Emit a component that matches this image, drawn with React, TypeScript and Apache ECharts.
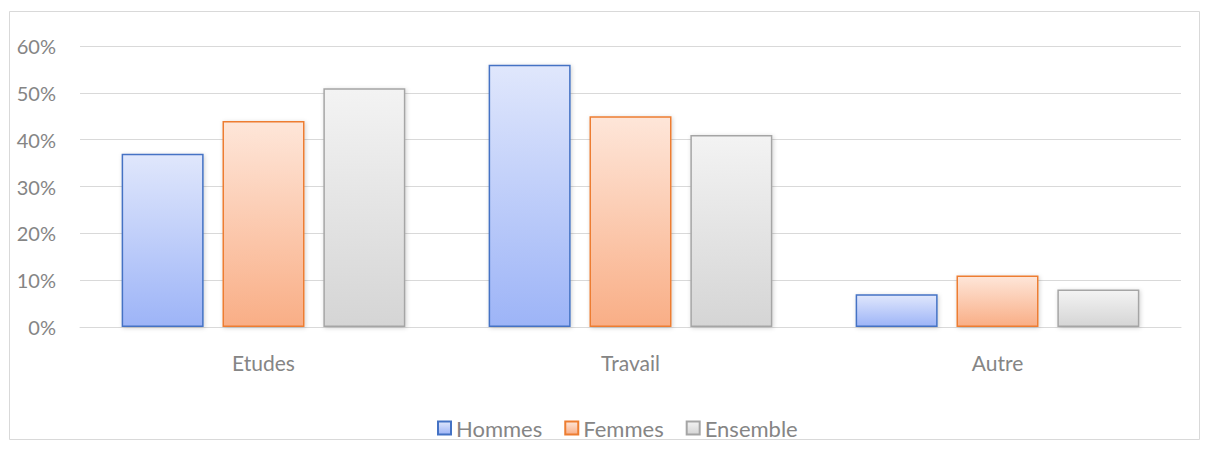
import React, { useEffect, useRef } from "react";
import * as echarts from "echarts";

const categories = ["Etudes", "Travail", "Autre"];
const hommes = [37, 56, 7];
const femmes = [44, 45, 11];
const ensemble = [51, 41, 8];
const yTicks = [0, 10, 20, 30, 40, 50, 60];

const FONT = "Lato, 'Open Sans', sans-serif";
const TXT = "#858585";

function grad(top: string, bottom: string) {
  return new echarts.graphic.LinearGradient(0, 0, 0, 1, [
    { offset: 0, color: top },
    { offset: 1, color: bottom },
  ]);
}

export default function App() {
  const ref = useRef<HTMLDivElement>(null);
  useEffect(() => {
    if (!ref.current) return;
    const chart = echarts.init(ref.current, null, { renderer: "svg" });
    const mk = (name: string, data: number[], top: string, bottom: string, border: string) => ({
      name,
      type: "bar",
      data,
      barWidth: 82,
      barGap: "23%",
      itemStyle: {
        color: grad(top, bottom),
        borderColor: border,
        borderWidth: 1.5,
        shadowColor: "rgba(0,0,0,0.18)",
        shadowBlur: 4,
        shadowOffsetX: 1,
        shadowOffsetY: 1,
      },
    });
    chart.setOption({
      animation: false,
      backgroundColor: "#ffffff",
      textStyle: { fontFamily: FONT },
      graphic: [
        {
          type: "rect",
          shape: { x: 9.5, y: 11.5, width: 1190, height: 428 },
          style: { fill: "none", stroke: "#d9d9d9", lineWidth: 1 },
          silent: true,
        },
      ],
      grid: { left: 80, right: 28, top: 46, height: 281, containLabel: false },
      legend: {
        left: 432,
        top: 412,
        itemWidth: 13,
        itemHeight: 13,
        itemGap: 22,
        icon: "rect",
        textStyle: { color: TXT, fontSize: 22, fontFamily: FONT, padding: [0, 0, 0, 0] },
        data: ["Hommes", "Femmes", "Ensemble"],
      },
      xAxis: {
        type: "category",
        data: categories,
        axisLine: { lineStyle: { color: "#d9d9d9", width: 1 } },
        axisTick: { show: false },
        axisLabel: { color: TXT, fontSize: 21, fontFamily: FONT, margin: 25 },
      },
      yAxis: {
        type: "value",
        min: yTicks[0],
        max: yTicks[yTicks.length - 1],
        interval: 10,
        axisLine: { show: false },
        axisTick: { show: false },
        splitLine: { lineStyle: { color: "#d9d9d9", width: 1 } },
        axisLabel: { color: TXT, fontSize: 20, fontFamily: FONT, margin: 24, formatter: "{value}%" },
      },
      series: [
        mk("Hommes", hommes, "#e0e7fc", "#9db4f7", "#4472c4"),
        mk("Femmes", femmes, "#fee6d9", "#f9ae86", "#ed7d31"),
        mk("Ensemble", ensemble, "#f3f3f3", "#d5d5d5", "#a5a5a5"),
      ],
    });
    return () => chart.dispose();
  }, []);
  return (
    <div
      ref={ref}
      style={{ position: "fixed", left: 0, top: 0, width: 1209, height: 456 }}
    />
  );
}
